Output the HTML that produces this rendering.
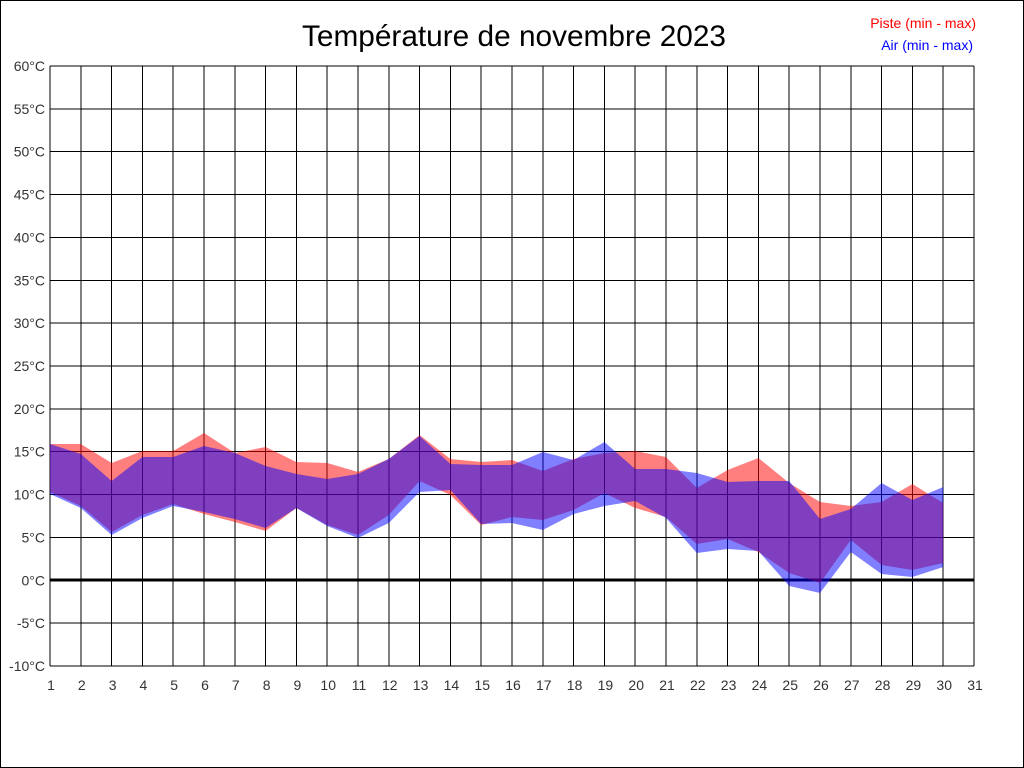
<!DOCTYPE html>
<html><head><meta charset="utf-8"><style>
html,body{margin:0;padding:0;background:#fff}
svg{display:block}
text{font-family:"Liberation Sans",Arial,sans-serif}
</style></head><body>
<svg width="1024" height="768" viewBox="0 0 1024 768" xmlns="http://www.w3.org/2000/svg">
<rect x="0.5" y="0.5" width="1023" height="767" fill="#fff" stroke="#000"/>
<text x="514" y="46" font-size="29.8" text-anchor="middle" fill="#000">Température de novembre 2023</text>
<text x="976" y="28" font-size="14" text-anchor="end" fill="#f00">Piste (min - max)</text>
<text x="973" y="50" font-size="14" text-anchor="end" fill="#00f">Air (min - max)</text>
<g id="grid" stroke="#000" stroke-width="1" shape-rendering="crispEdges"></g>
<g id="labels" font-size="14" fill="#333"></g>
<polygon id="red" fill="rgba(255,0,0,0.5)"/>
<polygon id="blue" fill="rgba(0,0,255,0.5)"/>
</svg>
<script>
var ns="http://www.w3.org/2000/svg";
var g=document.getElementById('grid'),L=document.getElementById('labels');
function el(p,t,a){var e=document.createElementNS(ns,t);for(var k in a)e.setAttribute(k,a[k]);p.appendChild(e);return e;}
for(var i=0;i<=30;i++){var x=50+i*30.8;el(g,'line',{x1:x,y1:66,x2:x,y2:666});
var t=el(L,'text',{x:x+1,y:690,'text-anchor':'middle'});t.textContent=i+1;}
for(var j=0;j<=14;j++){var y=66+j*600/14;el(g,'line',{x1:50,y1:y,x2:974,y2:y});
var v=60-j*5;var t=el(L,'text',{x:45,y:y+5,'text-anchor':'end'});t.textContent=v+'°C';}
el(g,'line',{x1:50,y1:580,x2:974,y2:580,'stroke-width':3});
var rM=[444,444,463,451,451,433,453,447,462,463,472,459,435,459,462,460,471,459,453,451,457,488,470,458,483,502,506,502,484,503];
var rm=[492,506,532,515,504,514,522,531,508,525,535,515,481,495,525,517,520,510,493,508,517,544,539,552,573,583,540,565,570,563];
var bM=[444,454,481,457,457,446,453,466,474,479,474,459,436,464,465,465,452,460,442,469,469,473,482,481,481,519,509,483,500,487];
var bm=[494,508,535,518,506,512,519,528,508,526,538,523,492,490,524,523,530,514,506,501,518,553,549,551,586,593,552,574,577,567];
function poly(M,m){var p=[];for(var i=0;i<30;i++)p.push((50+i*30.8)+','+M[i]);for(var i=29;i>=0;i--)p.push((50+i*30.8)+','+m[i]);return p.join(' ');}
document.getElementById('red').setAttribute('points',poly(rM,rm));
document.getElementById('blue').setAttribute('points',poly(bM,bm));
</script>
</body></html>
